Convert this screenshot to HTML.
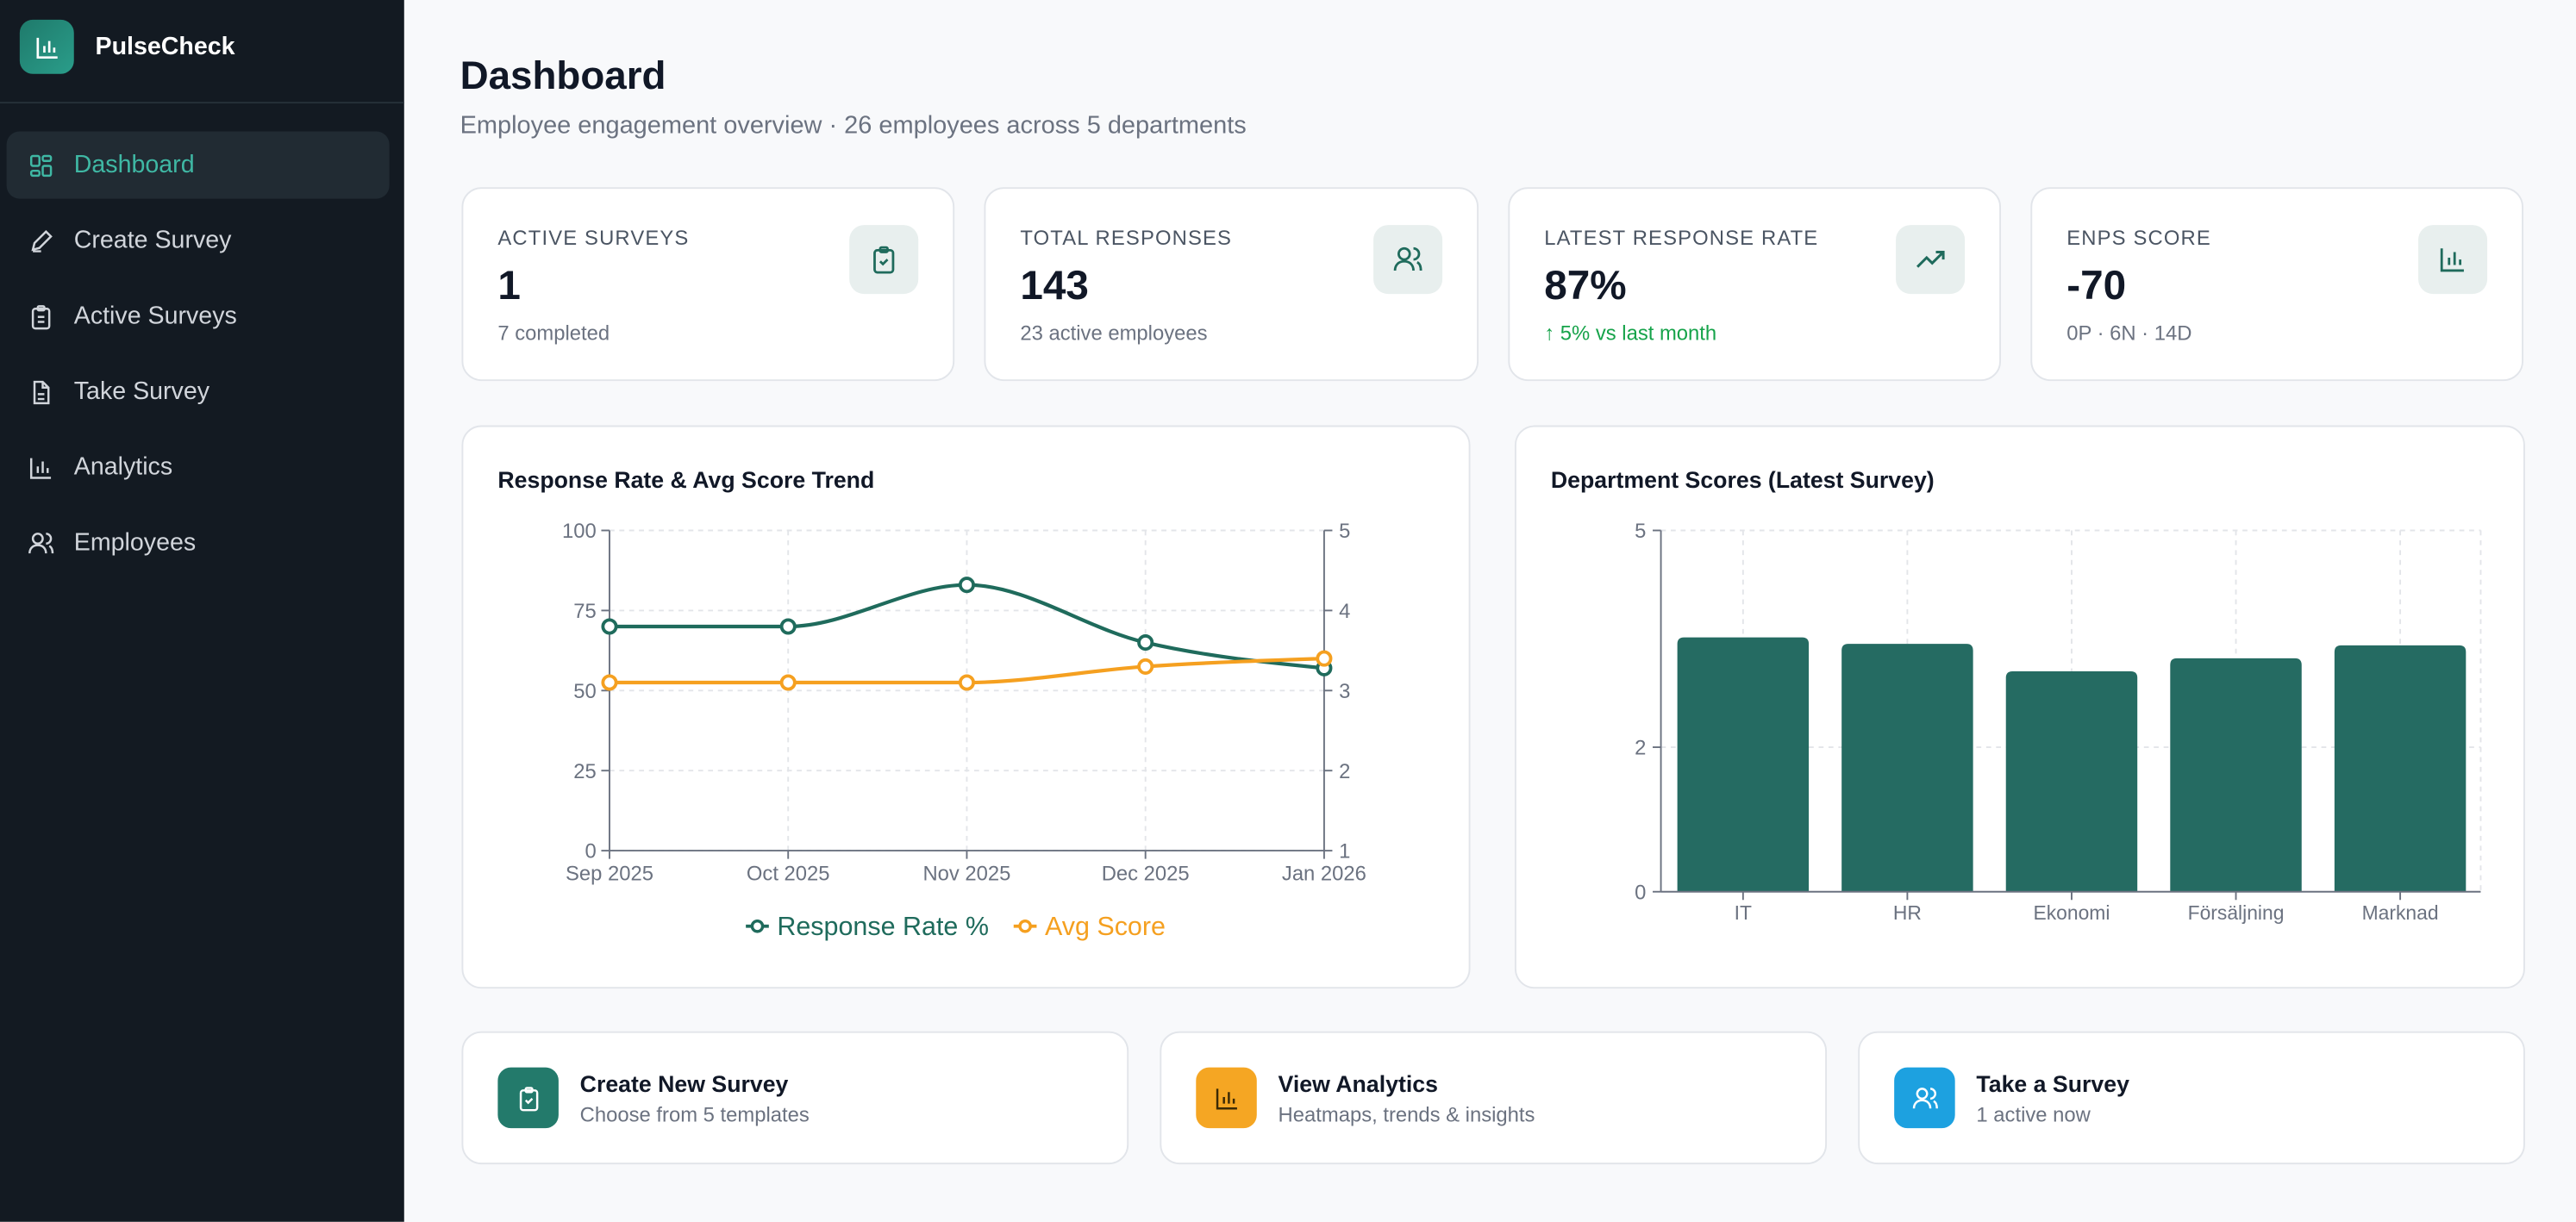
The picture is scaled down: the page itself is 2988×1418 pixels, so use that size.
<!DOCTYPE html>
<html><head><meta charset="utf-8">
<style>
*{box-sizing:border-box;margin:0;padding:0}
html,body{width:2988px;height:1418px;overflow:hidden;background:#f8f9fb;font-family:"Liberation Sans",sans-serif}
#root{position:absolute;left:0;top:0;width:1568px;height:744px;transform:scale(1.9056);transform-origin:0 0;background:#f8f9fb}
.abs{position:absolute}
.side{left:0;top:0;width:246px;height:744px;background:#131a22}
.nav{position:absolute;left:4px;width:233px;height:41px;border-radius:8px;display:flex;align-items:center;padding-left:13px;color:#d1d5db;font-size:15px}
.nav svg{width:16px;height:16px;margin-right:12px;flex:none}
.card{position:absolute;background:#fff;border:1px solid #e2e5ea;border-radius:12px}
.lbl{position:absolute;left:21px;top:23px;font-size:12.5px;letter-spacing:.6px;color:#4b5563}
.val{position:absolute;left:21px;top:45px;font-size:25px;font-weight:bold;color:#111827}
.sub{position:absolute;left:21px;top:81px;font-size:12.5px;color:#6b7280}
.ib{position:absolute;right:21px;top:22px;width:42px;height:42px;border-radius:9px;background:#e8efee;display:flex;align-items:center;justify-content:center}
.ctitle{position:absolute;left:21px;top:24px;font-size:14px;font-weight:bold;color:#111827}
.qi{position:absolute;left:21px;top:21px;width:37px;height:37px;border-radius:8px;display:flex;align-items:center;justify-content:center}
.qt{position:absolute;left:71px;top:23px;font-size:14px;font-weight:bold;color:#111827}
.qs{position:absolute;left:71px;top:43px;font-size:12.5px;color:#6b7280}
</style></head><body>
<div id="root">
<div class="abs side">
  <div class="abs" style="left:12px;top:12px;width:33px;height:33px;border-radius:8px;background:linear-gradient(135deg,#1f7a6b,#2a9d8a);display:flex;align-items:center;justify-content:center">
    <svg width="16" height="16" viewBox="0 0 16 16" fill="none" stroke="#fff" stroke-width="1.4"><path d="M2 2v12h12M6 11V7M9 11V4M12 11V8"/></svg></div>
  <div class="abs" style="left:58px;top:20px;color:#fff;font-weight:bold;font-size:15px">PulseCheck</div>
  <div class="abs" style="left:0;top:62px;width:246px;height:1px;background:#263139"></div>
  <div class="nav" style="top:80px;background:#212b33;color:#3fb8a4"><svg viewBox="0 0 16 16" fill="none" stroke="#3fb8a4" stroke-width="1.3"><rect x="2" y="2" width="5" height="6" rx="1"/><rect x="9" y="2" width="5" height="3" rx="1"/><rect x="9" y="8" width="5" height="6" rx="1"/><rect x="2" y="11" width="5" height="3" rx="1"/></svg>Dashboard</div>
  <div class="nav" style="top:126px"><svg viewBox="0 0 16 16" fill="none" stroke="#d1d5db" stroke-width="1.3"><path d="M3 13l1-4 7-7 3 3-7 7zM3 14h5"/></svg>Create Survey</div>
  <div class="nav" style="top:172px"><svg viewBox="0 0 16 16" fill="none" stroke="#d1d5db" stroke-width="1.3"><rect x="3" y="3" width="10" height="12" rx="1.5"/><rect x="6" y="1.5" width="4" height="2.5" rx=".7"/><path d="M6 8h4M6 11h4"/></svg>Active Surveys</div>
  <div class="nav" style="top:218px"><svg viewBox="0 0 16 16" fill="none" stroke="#d1d5db" stroke-width="1.3"><path d="M4 1.5h5l3.5 3.5v9.5h-8.5zM9 1.5V5h3.5M6 9h4M6 12h4"/></svg>Take Survey</div>
  <div class="nav" style="top:264px"><svg viewBox="0 0 16 16" fill="none" stroke="#d1d5db" stroke-width="1.3"><path d="M2 2v12h12M6 11V7M9 11V4M12 11V8"/></svg>Analytics</div>
  <div class="nav" style="top:310px"><svg viewBox="0 0 16 16" fill="none" stroke="#d1d5db" stroke-width="1.3"><circle cx="6" cy="5" r="3"/><path d="M1 14c0-3 2-5 5-5s5 2 5 5M11 2a3 3 0 010 6M13 9.5c1.5.7 2 2.5 2 4.5"/></svg>Employees</div>
</div>

<div class="abs" style="left:280px;top:33px;font-size:24px;font-weight:bold;color:#111827">Dashboard</div>
<div class="abs" style="left:280px;top:68px;font-size:15.2px;color:#6b7280">Employee engagement overview · 26 employees across 5 departments</div>

<div class="card" style="left:281px;top:114px;width:300px;height:118px"><div class="lbl">ACTIVE SURVEYS</div><div class="val">1</div><div class="sub">7 completed</div><div class="ib"><svg width="18" height="18" viewBox="0 0 16 16" fill="none" stroke="#1f6b5c" stroke-width="1.3"><rect x="3" y="3" width="10" height="12" rx="1.5"/><rect x="6" y="1.5" width="4" height="2.5" rx=".7"/><path d="M6 9l1.5 1.5L10 8"/></svg></div></div>
<div class="card" style="left:599px;top:114px;width:301px;height:118px"><div class="lbl">TOTAL RESPONSES</div><div class="val">143</div><div class="sub">23 active employees</div><div class="ib"><svg width="18" height="18" viewBox="0 0 16 16" fill="none" stroke="#1f6b5c" stroke-width="1.3"><circle cx="6" cy="5" r="3"/><path d="M1 14c0-3 2-5 5-5s5 2 5 5M11 2a3 3 0 010 6M13 9.5c1.5.7 2 2.5 2 4.5"/></svg></div></div>
<div class="card" style="left:918px;top:114px;width:300px;height:118px"><div class="lbl">LATEST RESPONSE RATE</div><div class="val">87%</div><div class="sub" style="color:#16a34a">↑ 5% vs last month</div><div class="ib"><svg width="18" height="18" viewBox="0 0 16 16" fill="none" stroke="#1f6b5c" stroke-width="1.4"><path d="M1 12l5-5 3 3 6-6M11 4h4v4"/></svg></div></div>
<div class="card" style="left:1236px;top:114px;width:300px;height:118px"><div class="lbl">ENPS SCORE</div><div class="val">-70</div><div class="sub">0P · 6N · 14D</div><div class="ib"><svg width="18" height="18" viewBox="0 0 16 16" fill="none" stroke="#1f6b5c" stroke-width="1.3"><path d="M2 2v12h12M6 11V7M9 11V4M12 11V8"/></svg></div></div>

<div class="card" style="left:281px;top:259px;width:614px;height:343px"><div class="ctitle">Response Rate &amp; Avg Score Trend</div></div>
<div class="card" style="left:922px;top:259px;width:615px;height:343px"><div class="ctitle">Department Scores (Latest Survey)</div></div>

<svg id="charts" class="abs" style="left:0;top:0" width="1568" height="744"></svg>

<div class="card" style="left:281px;top:628px;width:406px;height:81px"><div class="qi" style="background:#237a6b"><svg width="16" height="16" viewBox="0 0 16 16" fill="none" stroke="#fff" stroke-width="1.3"><rect x="3" y="3" width="10" height="12" rx="1.5"/><rect x="6" y="1.5" width="4" height="2.5" rx=".7"/><path d="M6 9l1.5 1.5L10 8"/></svg></div><div class="qt">Create New Survey</div><div class="qs">Choose from 5 templates</div></div>
<div class="card" style="left:706px;top:628px;width:406px;height:81px"><div class="qi" style="background:#f5a623"><svg width="16" height="16" viewBox="0 0 16 16" fill="none" stroke="#3b2a05" stroke-width="1.3"><path d="M2 2v12h12M6 11V7M9 11V4M12 11V8"/></svg></div><div class="qt">View Analytics</div><div class="qs">Heatmaps, trends &amp; insights</div></div>
<div class="card" style="left:1131px;top:628px;width:406px;height:81px"><div class="qi" style="background:#1da1e0"><svg width="16" height="16" viewBox="0 0 16 16" fill="none" stroke="#fff" stroke-width="1.3"><circle cx="6" cy="5" r="3"/><path d="M1 14c0-3 2-5 5-5s5 2 5 5M11 2a3 3 0 010 6M13 9.5c1.5.7 2 2.5 2 4.5"/></svg></div><div class="qt">Take a Survey</div><div class="qs">1 active now</div></div>
</div>

<script>
const months = ["Sep 2025","Oct 2025","Nov 2025","Dec 2025","Jan 2026"];
const responseRate = [70,70,83,65,57];
const avgScore = [3.1,3.1,3.1,3.3,3.4];
const leftTicks = [0,25,50,75,100];
const rightTicks = [1,2,3,4,5];
const departments = ["IT","HR","Ekonomi","Försäljning","Marknad"];
const deptScores = [3.52,3.43,3.05,3.23,3.41];
const deptTicks = [0,2,5];

const NS="http://www.w3.org/2000/svg";
const svg=document.getElementById('charts');
function mk(tag,attrs,parent){const e=document.createElementNS(NS,tag);for(const k in attrs)e.setAttribute(k,attrs[k]);(parent||svg).appendChild(e);return e;}
function txt(s,attrs){const e=mk('text',attrs);e.textContent=s;return e;}

// Line chart
const L={x0:371,x1:806,yT:323,yB:518};
const xL=i=>L.x0+(L.x1-L.x0)*i/(months.length-1);
const yLeft=v=>L.yB-(L.yB-L.yT)*v/100;
const yRight=v=>L.yB-(L.yB-L.yT)*(v-1)/4;
leftTicks.forEach(t=>{
  const g=mk('line',{x1:L.x0,x2:L.x1,y1:yLeft(t),y2:yLeft(t),stroke:'#e3e5e9','stroke-dasharray':'3 3'});
  
  mk('line',{x1:L.x0-5,x2:L.x0,y1:yLeft(t),y2:yLeft(t),stroke:'#6b7280'});
  const l=txt(String(t),{x:L.x0-8,y:yLeft(t)+4.5,'text-anchor':'end','font-size':12.5,fill:'#6b7280'});
  
});
rightTicks.forEach(t=>{
  mk('line',{x1:L.x1,x2:L.x1+5,y1:yRight(t),y2:yRight(t),stroke:'#6b7280'});
  const l=txt(String(t),{x:L.x1+9,y:yRight(t)+4.5,'font-size':12.5,fill:'#6b7280'});
  
});
months.forEach((m,i)=>{
  if(i>0&&i<months.length-1){const g=mk('line',{x1:xL(i),x2:xL(i),y1:L.yT,y2:L.yB,stroke:'#e3e5e9','stroke-dasharray':'3 3'});}
  mk('line',{x1:xL(i),x2:xL(i),y1:L.yB,y2:L.yB+5,stroke:'#6b7280'});
  const l=txt(m,{x:xL(i),y:L.yB+18,'text-anchor':'middle','font-size':12.5,fill:'#6b7280'});
  
});
mk('line',{x1:L.x0,x2:L.x1,y1:L.yT,y2:L.yT,stroke:'#e3e5e9','stroke-dasharray':'3 3'});
mk('line',{x1:L.x0,x2:L.x0,y1:L.yT,y2:L.yB,stroke:'#6b7280'});
mk('line',{x1:L.x1,x2:L.x1,y1:L.yT,y2:L.yB,stroke:'#6b7280'});
mk('line',{x1:L.x0,x2:L.x1,y1:L.yB,y2:L.yB,stroke:'#6b7280'});

function monotone(pts){
  const n=pts.length,t=new Array(n).fill(0),s=[];
  for(let i=0;i<n-1;i++)s.push((pts[i+1][1]-pts[i][1])/(pts[i+1][0]-pts[i][0]));
  for(let i=1;i<n-1;i++){const h0=pts[i][0]-pts[i-1][0],h1=pts[i+1][0]-pts[i][0];const p=(s[i-1]*h1+s[i]*h0)/(h0+h1);
    t[i]=(Math.sign(s[i-1])+Math.sign(s[i]))*Math.min(Math.abs(s[i-1]),Math.abs(s[i]),0.5*Math.abs(p))||0;}
  t[0]=(3*s[0]-t[1])/2; t[n-1]=(3*s[n-2]-t[n-2])/2;
  let d=`M${pts[0][0]},${pts[0][1]}`;
  for(let i=0;i<n-1;i++){const dx=(pts[i+1][0]-pts[i][0])/3;
    d+=`C${pts[i][0]+dx},${pts[i][1]+dx*t[i]} ${pts[i+1][0]-dx},${pts[i+1][1]-dx*t[i+1]} ${pts[i+1][0]},${pts[i+1][1]}`;}
  return d;
}
function series(vals,yf,color,name){
  const pts=vals.map((v,i)=>[xL(i),yf(v)]);
  const p=mk('path',{d:monotone(pts),fill:'none',stroke:color,'stroke-width':2.2});
  
  pts.forEach(q=>{const c=mk('circle',{cx:q[0],cy:q[1],r:4,fill:'#fff',stroke:color,'stroke-width':2});
    });
}
series(responseRate,yLeft,'#1f6b5c','response-rate');
series(avgScore,yRight,'#f5a020','avg-score');
function legend(x,color,label,name){
  const g=mk('g',{});
  mk('line',{x1:x,x2:x+14,y1:564,y2:564,stroke:color,'stroke-width':2},g);
  mk('circle',{cx:x+7,cy:564,r:3.2,fill:'#fff',stroke:color,'stroke-width':1.8},g);
  const t=mk('text',{x:x+19,y:569.5,'font-size':16,fill:color},g);t.textContent=label;
}
legend(454,'#1f6b5c','Response Rate %','legend-response-rate');
legend(617,'#f5a020','Avg Score','legend-avg-score');

// Bar chart
const B={x0:1011,x1:1510,yT:323,yB:543};
const band=(B.x1+1-B.x0)/departments.length;
const xB=i=>B.x0+band*i+band/2;
const yB=v=>B.yB-(B.yB-B.yT)*v/5;
deptTicks.forEach(t=>{
  if(t>0){const g=mk('line',{x1:B.x0,x2:B.x1,y1:yB(t),y2:yB(t),stroke:'#e3e5e9','stroke-dasharray':'3 3'});}
  mk('line',{x1:B.x0-5,x2:B.x0,y1:yB(t),y2:yB(t),stroke:'#6b7280'});
  const l=txt(String(t),{x:B.x0-9,y:yB(t)+4.5,'text-anchor':'end','font-size':12.5,fill:'#6b7280'});
  
});
departments.forEach((d,i)=>{
  const g=mk('line',{x1:xB(i),x2:xB(i),y1:B.yT,y2:B.yB,stroke:'#e3e5e9','stroke-dasharray':'3 3'});
  
});
mk('line',{x1:B.x1,x2:B.x1,y1:B.yT,y2:B.yB,stroke:'#e3e5e9','stroke-dasharray':'3 3'});
departments.forEach((d,i)=>{
  const w=80,x=xB(i)-w/2,y=yB(deptScores[i]),r=4;
  const p=mk('path',{d:`M${x},${B.yB}V${y+r}Q${x},${y} ${x+r},${y}H${x+w-r}Q${x+w},${y} ${x+w},${y+r}V${B.yB}Z`,fill:'#256b62'});
  
  mk('line',{x1:xB(i),x2:xB(i),y1:B.yB,y2:B.yB+5,stroke:'#6b7280'});
  const l=txt(d,{x:xB(i),y:B.yB+17,'text-anchor':'middle','font-size':12,fill:'#6b7280'});
  
});
mk('line',{x1:B.x0,x2:B.x0,y1:B.yT,y2:B.yB,stroke:'#6b7280'});
mk('line',{x1:B.x0,x2:B.x1,y1:B.yB,y2:B.yB,stroke:'#6b7280'});
</script>
</body></html>
